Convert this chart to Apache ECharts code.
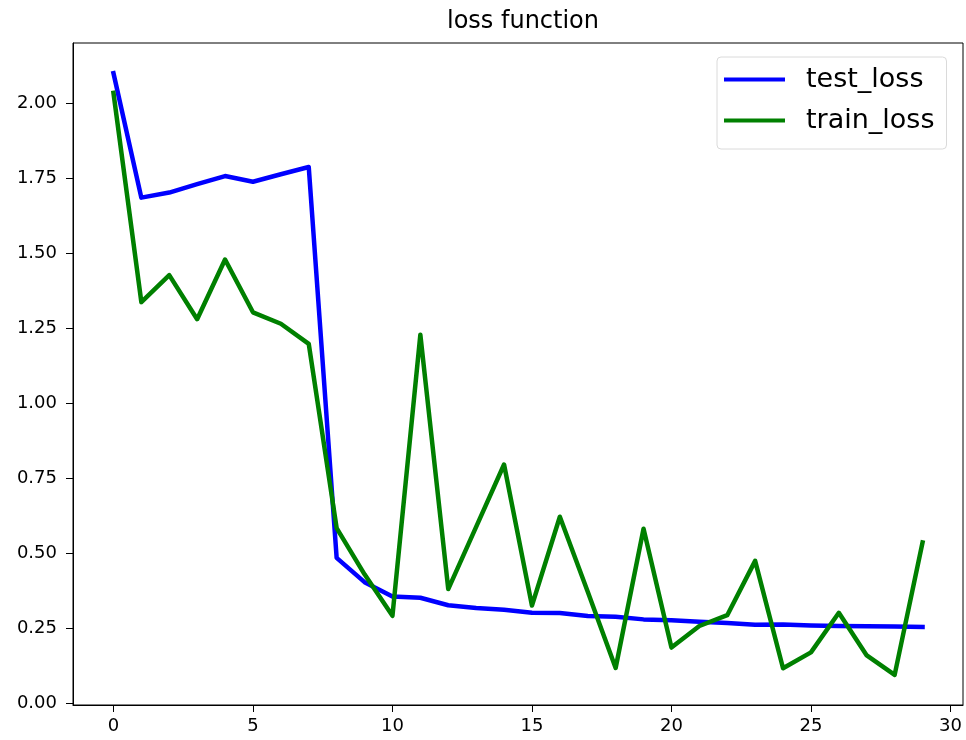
<!DOCTYPE html>
<html>
<head>
<meta charset="utf-8">
<title>loss function</title>
<script src="https://cdn.jsdelivr.net/npm/echarts@6/dist/echarts.min.js"></script>
<style>
  html, body { margin: 0; padding: 0; background: #ffffff; }
  #chart { width: 966px; height: 740px; }
</style>
</head>
<body>
<div id="chart"></div>
<script>
// Epoch indices and per-epoch loss values
const epochs = Array.from({ length: 30 }, (_, i) => i);
const testLoss = [
  2.100, 1.685, 1.702, 1.730, 1.757, 1.738, 1.763, 1.787, 0.485, 0.404,
  0.356, 0.352, 0.327, 0.318, 0.312, 0.302, 0.301, 0.291, 0.289, 0.280,
  0.277, 0.272, 0.268, 0.262, 0.263, 0.260, 0.258, 0.257, 0.256, 0.255
];
const trainLoss = [
  2.034, 1.337, 1.427, 1.280, 1.479, 1.303, 1.265, 1.198, 0.584, 0.430,
  0.292, 1.228, 0.381, 0.588, 0.796, 0.326, 0.622, 0.372, 0.118, 0.582,
  0.186, 0.258, 0.294, 0.475, 0.117, 0.170, 0.302, 0.160, 0.095, 0.536
];
const xTicks = [0, 5, 10, 15, 20, 25, 30];
const yTicks = [0, 0.25, 0.5, 0.75, 1.0, 1.25, 1.5, 1.75, 2.0];

// Axis ranges with a 5% margin around the data
const allY = testLoss.concat(trainLoss);
const yLo = Math.min(...allY), yHi = Math.max(...allY);
const yPad = 0.05 * (yHi - yLo);
const xLo = epochs[0], xHi = epochs[epochs.length - 1];
const xPad = 0.05 * (xHi - xLo);

const pairs = (vals) => vals.map((v, i) => [epochs[i], v]);

const font = 'DejaVu Sans';
const chart = echarts.init(document.getElementById('chart'), null, { renderer: 'canvas' });

chart.setOption({
  animation: false,
  backgroundColor: '#ffffff',
  title: {
    text: 'loss function',
    left: 518,
    textAlign: 'center',
    top: 5,
    textStyle: { fontFamily: font, fontSize: 24, fontWeight: 'normal', color: '#000000' }
  },
  legend: {
    orient: 'vertical',
    left: 717,
    top: 57,
    padding: [9, 12, 15, 7],
    itemGap: 14,
    itemWidth: 61,
    itemHeight: 4,
    icon: 'rect',
    backgroundColor: '#ffffff',
    borderColor: '#dadada',
    borderWidth: 1,
    borderRadius: 4,
    textStyle: { fontFamily: font, fontSize: 27, color: '#000000', padding: [0, 0, 0, 16] },
    data: [
      { name: 'test_loss', itemStyle: { color: '#0000ff' } },
      { name: 'train_loss', itemStyle: { color: '#008000' } }
    ]
  },
  grid: {
    left: 73, right: 3, top: 43, bottom: 35,
    show: true, borderColor: '#000000', borderWidth: 1
  },
  xAxis: {
    type: 'value',
    min: xLo - xPad,
    max: xHi + xPad,
    splitLine: { show: false },
    axisLine: { show: true, onZero: false, lineStyle: { color: '#000000', width: 1 } },
    axisTick: { show: true, length: 7, customValues: xTicks, lineStyle: { color: '#000000', width: 1 } },
    axisLabel: {
      customValues: xTicks, margin: 12,
      fontFamily: font, fontSize: 18, color: '#000000',
      formatter: (v) => String(v)
    }
  },
  yAxis: {
    type: 'value',
    min: yLo - yPad,
    max: yHi + yPad,
    splitLine: { show: false },
    axisLine: { show: true, onZero: false, lineStyle: { color: '#000000', width: 1 } },
    axisTick: { show: true, length: 7, customValues: yTicks, lineStyle: { color: '#000000', width: 1 } },
    axisLabel: {
      customValues: yTicks, margin: 16,
      fontFamily: font, fontSize: 18, color: '#000000',
      formatter: (v) => v.toFixed(2)
    }
  },
  series: [
    {
      name: 'test_loss', type: 'line', data: pairs(testLoss),
      showSymbol: false, color: '#0000ff',
      lineStyle: { width: 4.5, color: '#0000ff', cap: 'square', join: 'round' }
    },
    {
      name: 'train_loss', type: 'line', data: pairs(trainLoss),
      showSymbol: false, color: '#008000',
      lineStyle: { width: 4.5, color: '#008000', cap: 'square', join: 'round' }
    }
  ]
});
</script>
</body>
</html>
